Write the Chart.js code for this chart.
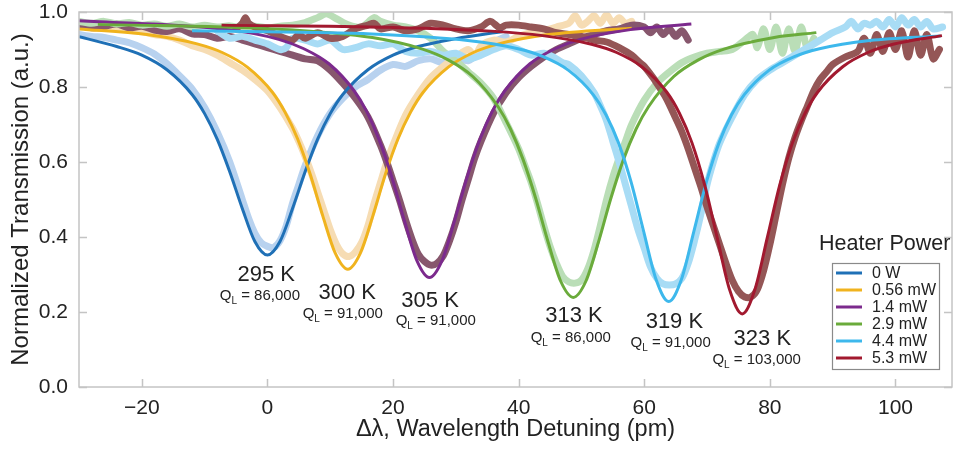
<!DOCTYPE html>
<html lang="en">
<head>
<meta charset="UTF-8" />
<title>Heater Power Tuning</title>
<script src="https://cdn.jsdelivr.net/npm/chart.js"></script>
<style>
  html, body { margin: 0; padding: 0; background: #fff; }
  #wrap { width: 955px; height: 449px; }
</style>
</head>
<body>
<div id="wrap"><canvas id="tuningChart"></canvas></div>
<script>
// series names / colours
const powerLabels = ["0 W", "0.56 mW", "1.4 mW", "2.9 mW", "4.4 mW", "5.3 mW"];
const fitColors = ["#1f70b6", "#f0b31e", "#7c2a8d", "#6aab3b", "#3db8ec", "#a2192f"];
const measColors = ["#b8d2ef", "#f6dcb3", "#87576d", "#badeb7", "#a8dcf5", "#945656"];

const tempLabels = ["295 K", "300 K", "305 K", "313 K", "319 K", "323 K"];
const qLabels = ["86,000", "91,000", "91,000", "86,000", "91,000", "103,000"];

const xTicks = [-20, 0, 20, 40, 60, 80, 100];
const yTicks = [0, 0.2, 0.4, 0.6, 0.8, 1.0];

// fitted curves [detuning pm, transmission]
const fit0W = [[-30,0.934],[-24,0.908],[-20,0.885],[-16,0.846],[-12,0.78],[-10,0.729],[-8,0.661],[-6,0.574],[-4,0.476],[-2,0.388],[0,0.352],[2,0.388],[4,0.476],[6,0.574],[8,0.661],[10,0.729],[12,0.78],[16,0.846],[20,0.885],[24,0.908],[30,0.929],[37.5,0.948]];
const fit056 = [[-30,0.955],[-19.2,0.94],[-11.2,0.915],[-7.2,0.892],[-3.2,0.853],[0.8,0.786],[2.8,0.733],[4.8,0.662],[6.8,0.568],[8.8,0.457],[10.8,0.357],[12.8,0.314],[14.8,0.357],[16.8,0.457],[18.8,0.568],[20.8,0.662],[22.8,0.733],[24.8,0.786],[28.8,0.853],[32.8,0.892],[36.8,0.915],[44.8,0.94],[58,0.957]];
const fit14 = [[-30,0.977],[-6.2,0.953],[1.8,0.927],[5.8,0.902],[9.8,0.862],[13.8,0.79],[15.8,0.735],[17.8,0.659],[19.8,0.56],[21.8,0.444],[23.8,0.337],[25.8,0.292],[27.8,0.337],[29.8,0.444],[31.8,0.56],[33.8,0.659],[35.8,0.735],[37.8,0.79],[41.8,0.862],[45.8,0.902],[49.8,0.927],[57.8,0.953],[67.5,0.968]];
const fit29 = [[-27,0.967],[0.7,0.955],[16.7,0.932],[24.7,0.901],[28.7,0.873],[32.7,0.828],[36.7,0.748],[38.7,0.688],[40.7,0.607],[42.7,0.504],[44.7,0.386],[46.7,0.282],[48.7,0.239],[50.7,0.282],[52.7,0.386],[54.7,0.504],[56.7,0.607],[58.7,0.688],[60.7,0.748],[64.7,0.828],[68.7,0.873],[72.7,0.901],[80.7,0.932],[87.4,0.945]];
const fit44 = [[-12,0.95],[5.2,0.946],[15.9,0.942],[31.9,0.924],[39.9,0.902],[43.9,0.881],[47.9,0.845],[51.9,0.779],[53.9,0.726],[55.9,0.651],[57.9,0.547],[59.9,0.415],[61.9,0.286],[63.9,0.228],[65.9,0.286],[67.9,0.415],[69.9,0.547],[71.9,0.651],[73.9,0.726],[75.9,0.779],[79.9,0.845],[83.9,0.881],[87.9,0.902],[95.9,0.924],[107.2,0.936]];
const fit53 = [[-7.3,0.965],[19.6,0.959],[35.6,0.949],[43.8,0.937],[51.6,0.914],[55.6,0.892],[59.6,0.854],[63.6,0.786],[65.6,0.73],[67.6,0.651],[69.6,0.54],[71.6,0.399],[73.6,0.259],[75.6,0.195],[77.6,0.259],[79.6,0.399],[81.6,0.54],[83.6,0.651],[85.6,0.73],[87.6,0.786],[91.6,0.854],[95.6,0.892],[99.6,0.914],[107.4,0.937]];

// measured traces [detuning pm, transmission]
const meas0W = [[-30,0.94],[-28,0.935],[-26,0.932],[-24,0.925],[-22,0.918],[-20,0.905],[-18,0.888],[-16,0.862],[-14,0.83],[-12,0.795],[-10,0.745],[-8,0.68],[-6,0.6],[-4,0.5],[-3,0.45],[-2,0.41],[-1,0.385],[0,0.375],[1,0.372],[2,0.39],[3,0.43],[4,0.49],[5,0.54],[6,0.59],[8,0.67],[10,0.73],[12,0.77],[14,0.8],[16,0.82],[18,0.845],[20,0.86],[22,0.855],[24,0.87],[26,0.875],[28,0.865],[30,0.88],[32,0.87],[34,0.9],[36,0.92],[38,0.935]];
const meas056 = [[-30,0.965],[-28,0.962],[-26,0.958],[-24,0.96],[-22,0.952],[-20,0.948],[-18,0.94],[-16,0.935],[-14,0.925],[-12,0.91],[-10,0.9],[-8,0.885],[-6,0.865],[-4,0.845],[-2,0.82],[0,0.79],[2,0.745],[4,0.69],[5,0.655],[6,0.615],[7,0.57],[8,0.52],[9,0.47],[10,0.42],[11,0.38],[12,0.355],[13,0.348],[14,0.36],[15,0.385],[16,0.43],[17,0.49],[18,0.545],[19,0.6],[20,0.645],[22,0.725],[24,0.78],[26,0.825],[28,0.855],[30,0.88],[32,0.9],[33,0.88],[34,0.91],[36,0.925],[38,0.92],[40,0.935],[42,0.945],[44,0.95],[46,0.96],[48,0.97],[49,0.99],[50,0.965],[51,0.975],[52,0.99],[53,0.97],[54,0.993],[55,0.97],[56,0.985],[57,0.97],[58,0.975]];
const meas14 = [[-30,0.965],[-28,0.958],[-26,0.962],[-24,0.968],[-22,0.958],[-20,0.962],[-18,0.952],[-16,0.948],[-14,0.955],[-12,0.942],[-10,0.94],[-8,0.93],[-6,0.935],[-4,0.925],[-2,0.915],[0,0.905],[2,0.895],[4,0.885],[6,0.875],[8,0.87],[10,0.845],[12,0.81],[14,0.77],[16,0.72],[18,0.645],[19,0.6],[20,0.55],[21,0.5],[22,0.445],[23,0.395],[24,0.355],[25,0.335],[26,0.325],[27,0.33],[28,0.35],[29,0.39],[30,0.44],[31,0.5],[32,0.555],[33,0.61],[34,0.655],[36,0.73],[38,0.785],[40,0.825],[42,0.855],[44,0.88],[46,0.9],[48,0.915],[50,0.93],[52,0.94],[54,0.95],[56,0.955],[58,0.965],[60,0.96],[61,0.945],[62,0.96],[63,0.94],[64,0.955],[65,0.935],[66,0.95],[67,0.925]];
const meas29 = [[-30,0.975],[-28,0.97],[-26,0.975],[-24,0.968],[-22,0.972],[-20,0.965],[-18,0.968],[-16,0.962],[-14,0.968],[-12,0.96],[-10,0.965],[-8,0.96],[-6,0.963],[-4,0.958],[-2,0.962],[0,0.958],[2,0.962],[4,0.965],[6,0.972],[8,0.985],[9.4,0.995],[11,0.982],[13,0.965],[15,0.96],[17,0.985],[18,0.975],[20,0.965],[22,0.96],[24,0.95],[26,0.93],[28,0.895],[30,0.87],[32,0.84],[34,0.81],[36,0.77],[38,0.705],[40,0.635],[41,0.59],[42,0.545],[43,0.49],[44,0.43],[45,0.375],[46,0.33],[47,0.295],[48,0.28],[49,0.277],[50,0.285],[51,0.315],[52,0.365],[53,0.43],[54,0.5],[55,0.56],[56,0.61],[57,0.655],[58,0.7],[60,0.765],[62,0.81],[64,0.84],[66,0.865],[68,0.88],[70,0.89],[72,0.895],[74,0.9],[76,0.925],[77.3,0.94],[78,0.905],[79,0.955],[80,0.9],[81,0.96],[82,0.89],[83,0.955],[84,0.895],[85,0.96],[86,0.9],[87,0.93]];
const meas44 = [[-8,0.95],[-6,0.93],[-4,0.935],[-2,0.925],[0,0.915],[2,0.9],[3,0.905],[4,0.93],[6,0.925],[8,0.915],[10,0.925],[12,0.9],[14,0.905],[16,0.915],[18,0.91],[20,0.915],[22,0.895],[24,0.89],[26,0.895],[28,0.885],[30,0.89],[32,0.875],[34,0.885],[36,0.9],[38,0.91],[40,0.9],[42,0.885],[44,0.89],[45.5,0.88],[47,0.865],[48,0.86],[50,0.83],[52,0.785],[53,0.75],[54,0.71],[55,0.655],[56,0.6],[57,0.54],[58,0.48],[59,0.42],[60,0.37],[61,0.32],[62,0.29],[63,0.275],[64,0.272],[65,0.275],[66,0.29],[67,0.33],[68,0.39],[69,0.46],[70,0.54],[71,0.6],[72,0.65],[74,0.72],[76,0.78],[78,0.82],[80,0.845],[82,0.865],[84,0.885],[86,0.905],[88,0.925],[90,0.945],[92,0.96],[93,0.975],[94,0.955],[95,0.97],[96,0.965],[97,0.975],[98,0.96],[99,0.98],[100,0.96],[101,0.985],[102,0.965],[103,0.98],[104,0.96],[105,0.975],[106,0.955],[107.5,0.96]];
const meas53 = [[-5,0.955],[-4,0.97],[-3.5,0.985],[-3,0.97],[-2,0.96],[0,0.95],[2,0.935],[4,0.925],[5,0.94],[6,0.93],[8,0.945],[10,0.93],[12,0.935],[14,0.955],[16,0.965],[17,0.97],[18,0.955],[20,0.96],[22,0.95],[24,0.955],[26,0.97],[28,0.965],[30,0.955],[32,0.95],[34,0.96],[35.5,0.975],[37,0.958],[38,0.965],[40,0.965],[42,0.96],[44,0.955],[46,0.945],[48,0.94],[50,0.935],[52,0.925],[54,0.92],[56,0.905],[58,0.885],[59.3,0.865],[60,0.855],[61.4,0.825],[62,0.81],[63.5,0.77],[65,0.717],[66,0.68],[67,0.635],[68,0.585],[69,0.535],[70,0.48],[71,0.43],[72,0.38],[73,0.33],[74,0.285],[75,0.255],[76,0.24],[77,0.24],[78,0.26],[79,0.31],[80,0.38],[81,0.46],[82,0.54],[83,0.61],[84,0.665],[85,0.71],[86,0.75],[87,0.79],[88,0.82],[89,0.84],[90,0.86],[92,0.88],[94,0.895],[95,0.93],[96,0.89],[97,0.94],[98,0.895],[99,0.945],[100,0.9],[101,0.95],[102,0.88],[103,0.95],[104,0.885],[105,0.94],[106,0.875],[107,0.9]];

const fits = [fit0W, fit056, fit14, fit29, fit44, fit53];
const meas = [meas0W, meas056, meas14, meas29, meas44, meas53];

// where the resonance labels sit, in data units [x, y] (temperature, then Q_L)
const tempPos = [[-0.2,0.299],[12.7,0.251],[25.9,0.229],[48.8,0.189],[64.8,0.173],[78.8,0.128]];
const qPos = [[-1.2,0.243],[12.0,0.195],[26.8,0.176],[48.3,0.131],[64.2,0.117],[77.9,0.072]];

const FONT = "'Liberation Sans', Arial, Helvetica, sans-serif";
const toXY = (arr) => arr.map((p) => ({ x: p[0], y: p[1] }));

const datasets = [];
meas.forEach((m, i) => {
  datasets.push({
    label: powerLabels[i] + " data",
    data: toXY(m),
    borderColor: measColors[i],
    borderWidth: 7,
    borderJoinStyle: "round",
    borderCapStyle: "round",
    pointRadius: 0,
    tension: 0.3,
    order: 20 - i,
    isFit: false,
  });
});
fits.forEach((f, i) => {
  datasets.push({
    label: powerLabels[i],
    data: toXY(f),
    borderColor: fitColors[i],
    borderWidth: 3,
    pointRadius: 0,
    cubicInterpolationMode: "monotone",
    order: 7 - i,
    isFit: true,
  });
});

const framePlugin = {
  id: "frame",
  afterDatasetsDraw(chart) {
    const { ctx, chartArea: a, scales } = chart;
    ctx.save();
    ctx.strokeStyle = "#c4c4c4";
    ctx.lineWidth = 1.5;
    ctx.strokeRect(a.left, a.top, a.right - a.left, a.bottom - a.top);
    ctx.beginPath();
    scales.x.ticks.forEach((t) => {
      const px = Math.round(scales.x.getPixelForValue(t.value)) + 0.5;
      ctx.moveTo(px, a.bottom); ctx.lineTo(px, a.bottom - 8);
      ctx.moveTo(px, a.top); ctx.lineTo(px, a.top + 8);
    });
    scales.y.ticks.forEach((t) => {
      const py = Math.round(scales.y.getPixelForValue(t.value)) + 0.5;
      ctx.moveTo(a.left, py); ctx.lineTo(a.left + 8, py);
      ctx.moveTo(a.right, py); ctx.lineTo(a.right - 8, py);
    });
    ctx.stroke();
    ctx.restore();
  },
  afterDraw(chart) {
    const { ctx, scales } = chart;
    ctx.save();
    ctx.fillStyle = "#222";
    ctx.textBaseline = "middle";
    // resonance labels
    tempLabels.forEach((t, i) => {
      ctx.font = "22px " + FONT;
      ctx.textAlign = "center";
      ctx.fillText(t, scales.x.getPixelForValue(tempPos[i][0]), scales.y.getPixelForValue(tempPos[i][1]));
      const qx = scales.x.getPixelForValue(qPos[i][0]);
      const qy = scales.y.getPixelForValue(qPos[i][1]);
      ctx.font = "15px " + FONT;
      const wQ = ctx.measureText("Q").width;
      const rest = " = " + qLabels[i];
      const wR = ctx.measureText(rest).width;
      ctx.font = "10px " + FONT;
      const wL = ctx.measureText("L").width;
      let x0 = qx - (wQ + wL + wR) / 2;
      ctx.textAlign = "left";
      ctx.font = "15px " + FONT;
      ctx.fillText("Q", x0, qy);
      ctx.font = "10px " + FONT;
      ctx.fillText("L", x0 + wQ, qy + 5);
      ctx.font = "15px " + FONT;
      ctx.fillText(rest, x0 + wQ + wL, qy);
    });
    // legend
    const lg = { titleX: 819, titleY: 244, boxX: 832, boxY: 263, boxW: 107, boxH: 106, row0: 273, rowH: 17 };
    ctx.font = "21.5px " + FONT;
    ctx.textAlign = "left";
    ctx.fillText("Heater Power", lg.titleX, lg.titleY);
    ctx.strokeStyle = "#8a8a8a";
    ctx.lineWidth = 1.2;
    ctx.strokeRect(lg.boxX + 0.5, lg.boxY + 0.5, lg.boxW, lg.boxH);
    const fitSets = chart.data.datasets.filter((d) => d.isFit);
    ctx.font = "16px " + FONT;
    fitSets.forEach((d, i) => {
      const y = lg.row0 + i * lg.rowH;
      ctx.strokeStyle = d.borderColor;
      ctx.lineWidth = 3;
      ctx.beginPath();
      ctx.moveTo(lg.boxX + 4, y);
      ctx.lineTo(lg.boxX + 30, y);
      ctx.stroke();
      ctx.fillStyle = "#222";
      ctx.fillText(d.label, lg.boxX + 40, y + 1);
    });
    ctx.restore();
  },
};

new Chart(document.getElementById("tuningChart"), {
  type: "line",
  data: { datasets: datasets },
  options: {
    responsive: true,
    maintainAspectRatio: false,
    animation: false,
    devicePixelRatio: 1,
    layout: { padding: { top: 12, right: 3, left: 0, bottom: 0 } },
    plugins: { legend: { display: false }, tooltip: { enabled: false } },
    scales: {
      x: {
        type: "linear",
        min: -30,
        max: 109,
        grid: { display: false, drawTicks: false },
        border: { display: false },
        afterBuildTicks: (s) => { s.ticks = xTicks.map((v) => ({ value: v })); },
        afterFit: (s) => { s.height = 62; s.paddingLeft = 0; s.paddingRight = 0; },
        ticks: {
          padding: 9,
          color: "#222",
          font: { family: FONT, size: 21 },
          callback: (v) => String(v).replace("-", "\u2212"),
        },
        title: {
          display: true,
          text: "\u0394\u03bb, Wavelength Detuning (pm)",
          color: "#222",
          font: { family: FONT, size: 23.5 },
          padding: { top: 0, bottom: 5 },
        },
      },
      y: {
        min: 0,
        max: 1,
        grid: { display: false, drawTicks: false },
        border: { display: false },
        afterBuildTicks: (s) => { s.ticks = yTicks.map((v) => ({ value: v })); },
        afterFit: (s) => { s.width = 79; s.paddingTop = 0; s.paddingBottom = 0; },
        ticks: {
          padding: 11,
          color: "#222",
          font: { family: FONT, size: 21 },
          callback: (v) => v.toFixed(1),
        },
        title: {
          display: true,
          text: "Normalized Transmission (a.u.)",
          color: "#222",
          font: { family: FONT, size: 24 },
          padding: { top: 7, bottom: 0 },
        },
      },
    },
  },
  plugins: [framePlugin],
});
</script>
</body>
</html>
